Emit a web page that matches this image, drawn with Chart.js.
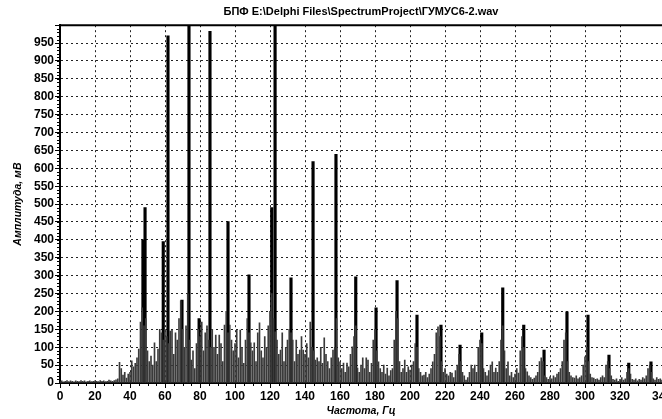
<!DOCTYPE html>
<html>
<head>
<meta charset="utf-8">
<script src="https://cdn.jsdelivr.net/npm/chart.js@4/dist/chart.umd.min.js"></script>
<style>
  body { margin: 0; background: #fff; }
</style>
</head>
<body>
<canvas id="spectrumChart" width="662" height="419"></canvas>
<script>
// ---------------- DATA ----------------
const titleText = "БПФ E:\\Delphi Files\\SpectrumProject\\ГУМУС6-2.wav";

// background spectrum, one value per Hz starting at 0 Hz (mV)
const noiseAmp = [
    4, 6, 3, 5, 7, 4, 6, 5, 3, 6,          // 0
    5, 4, 7, 5, 6, 3, 5, 6, 4, 5,          // 10
    6, 5, 4, 7, 5, 6, 4, 5, 8, 6,          // 20
    5, 7, 9, 12, 58, 40, 22, 30, 14, 25,   // 30
    30, 62, 45, 55, 70, 95, 170, 210, 160, 180,   // 40
    90, 60, 75, 50, 112, 60, 95, 150, 140, 120,   // 50
    150, 130, 110, 145, 148, 80, 140, 120, 180, 230, // 60
    150, 100, 160, 250, 120, 64, 90, 40, 110, 150,   // 70
    130, 170, 90, 140, 160, 120, 100, 150, 100, 134, // 80
    80, 134, 110, 60, 162, 200, 140, 162, 120, 90,   // 90
    110, 148, 70, 148, 100, 55, 120, 180, 140, 112,  // 100
    90, 112, 60, 140, 168, 90, 70, 130, 100, 160,    // 110
    200, 250, 180, 143, 120, 80, 92, 140, 60, 100,   // 120
    120, 150, 140, 120, 60, 120, 80, 92, 130, 92,    // 130
    80, 110, 70, 170, 100, 90, 64, 70, 60, 100,      // 140
    55, 126, 80, 60, 40, 70, 92, 100, 180, 70,       // 150
    59, 40, 56, 30, 56, 45, 80, 101, 130, 160,       // 160
    42, 30, 50, 70, 40, 70, 64, 30, 55, 120,         // 170
    150, 90, 59, 40, 30, 50, 25, 42, 20, 35,         // 180
    40, 120, 200, 180, 60, 30, 40, 64, 30, 45,       // 190
    36, 50, 60, 110, 100, 40, 30, 20, 22, 30,        // 200
    15, 25, 40, 59, 80, 140, 157, 130, 60, 30,       // 210
    40, 25, 20, 30, 28, 15, 35, 50, 80, 60,          // 220
    30, 20, 8, 15, 30, 50, 40, 50, 30, 100,          // 230
    120, 110, 40, 30, 20, 35, 50, 59, 30, 42,        // 240
    30, 60, 120, 160, 90, 40, 59, 20, 30, 15,        // 250
    25, 40, 28, 90, 130, 100, 40, 31, 20, 15,        // 260
    10, 14, 20, 30, 60, 70, 60, 20, 15, 10,          // 270
    17, 12, 20, 15, 25, 30, 40, 60, 120, 140,        // 280
    60, 30, 20, 15, 14, 20, 12, 15, 20, 50,          // 290
    73, 100, 60, 25, 15, 14, 10, 12, 8, 15,          // 300
    20, 15, 50, 60, 40, 20, 10, 8, 12, 5,            // 310
    10, 15, 8, 12, 30, 40, 25, 10, 8, 12,            // 320
    6, 10, 8, 15, 12, 20, 40, 50, 30, 12,            // 330
    8, 15, 10, 12, 8                                 // 340
];

// main spectral lines
const peakHz  = [47.4, 48.6, 59, 61.7, 69.7, 73.7, 79.5, 85.7, 96, 108, 121, 122.9, 132,
                 144.6, 157.7, 169, 180.6, 192.6, 204, 217.7, 228.6, 241, 253, 265,
                 276.6, 289.7, 301.7, 313.7, 325, 337.7];
const peakAmp = [400, 490, 395, 970, 232, 1000, 180, 983, 451, 302, 490, 1000, 294,
                 619, 639, 297, 210, 286, 190, 162, 106, 140, 266, 162,
                 92, 199, 190, 78, 56, 59];

const xMin = 0, xMax = 344, xStep = 20;
const yMin = 0, yMax = 1000, yStep = 50;

// ---------------- CHART ----------------
const minorTicks = {
    id: "minorTicks",
    afterDraw(chart) {
        const ctx = chart.ctx;
        const area = chart.chartArea;
        const xs = chart.scales.x, ys = chart.scales.y;
        ctx.save();
        ctx.strokeStyle = "#000";
        ctx.lineWidth = 1;
        ctx.beginPath();
        for (let v = yMin; v <= yMax; v += 10) {
            const py = Math.round(ys.getPixelForValue(v)) + 0.5;
            ctx.moveTo(area.left - 3, py);
            ctx.lineTo(area.left, py);
        }
        for (let v = xMin; v <= xMax; v += 5) {
            const px = Math.round(xs.getPixelForValue(v)) + 0.5;
            ctx.moveTo(px, area.bottom);
            ctx.lineTo(px, area.bottom + 3);
        }
        ctx.stroke();
        // frame top
        ctx.lineWidth = 2;
        ctx.beginPath();
        ctx.moveTo(area.left, area.top);
        ctx.lineTo(area.right, area.top);
        ctx.stroke();
        ctx.restore();
    }
};

const tickFont = { family: "'Liberation Sans', Arial, sans-serif", size: 12, weight: "bold" };

new Chart(document.getElementById("spectrumChart"), {
    type: "bar",
    data: {
        datasets: [
            {
                label: "noise",
                data: noiseAmp.map((v, i) => ({ x: i, y: v })),
                backgroundColor: "#3a3a3a",
                barThickness: 1,
                grouped: false
            },
            {
                label: "peaks",
                data: peakHz.map((f, i) => ({ x: f, y: peakAmp[i] })),
                backgroundColor: "#000",
                barThickness: 2.5,
                grouped: false
            }
        ]
    },
    options: {
        responsive: false,
        animation: false,
        layout: { padding: { left: 0, right: 0, top: 0, bottom: 0 } },
        plugins: {
            legend: { display: false },
            tooltip: { enabled: false },
            title: {
                display: true,
                fullSize: false,
                text: titleText,
                color: "#000",
                font: { family: "'Liberation Sans', Arial, sans-serif", size: 11, weight: "bold" },
                padding: { top: 5, bottom: 7 }
            }
        },
        scales: {
            x: {
                type: "linear",
                min: xMin,
                max: xMax,
                offset: false,
                grid: { offset: false, color: "#222", lineWidth: 1, tickLength: 5, tickColor: "#000" },
                border: { color: "#000", width: 2, dash: [2, 3] },
                ticks: {
                    stepSize: xStep,
                    color: "#000",
                    font: tickFont,
                    padding: 1,
                    maxRotation: 0
                },
                title: {
                    display: true,
                    text: "Частота, Гц",
                    color: "#000",
                    font: { family: "'Liberation Sans', Arial, sans-serif", size: 10.5, weight: "bold", style: "italic" },
                    padding: { top: 0, bottom: 2 }
                },
                afterFit(scale) {
                    scale.height = 36;
                    scale.paddingRight = 0;
                }
            },
            y: {
                min: yMin,
                max: yMax,
                grid: { color: "#222", lineWidth: 1, tickLength: 5, tickColor: "#000" },
                border: { color: "#000", width: 2, dash: [2, 3] },
                ticks: {
                    stepSize: yStep,
                    color: "#000",
                    font: tickFont,
                    padding: 1,
                    callback: v => (v >= yMax ? "" : v)
                },
                title: {
                    display: true,
                    text: "Амплитуда, мВ",
                    color: "#000",
                    font: { family: "'Liberation Sans', Arial, sans-serif", size: 10.5, weight: "bold", style: "italic" },
                    padding: { top: 12, bottom: 0 }
                },
                afterFit(scale) {
                    scale.width = 60;
                }
            }
        }
    },
    plugins: [minorTicks]
});
</script>
</body>
</html>
